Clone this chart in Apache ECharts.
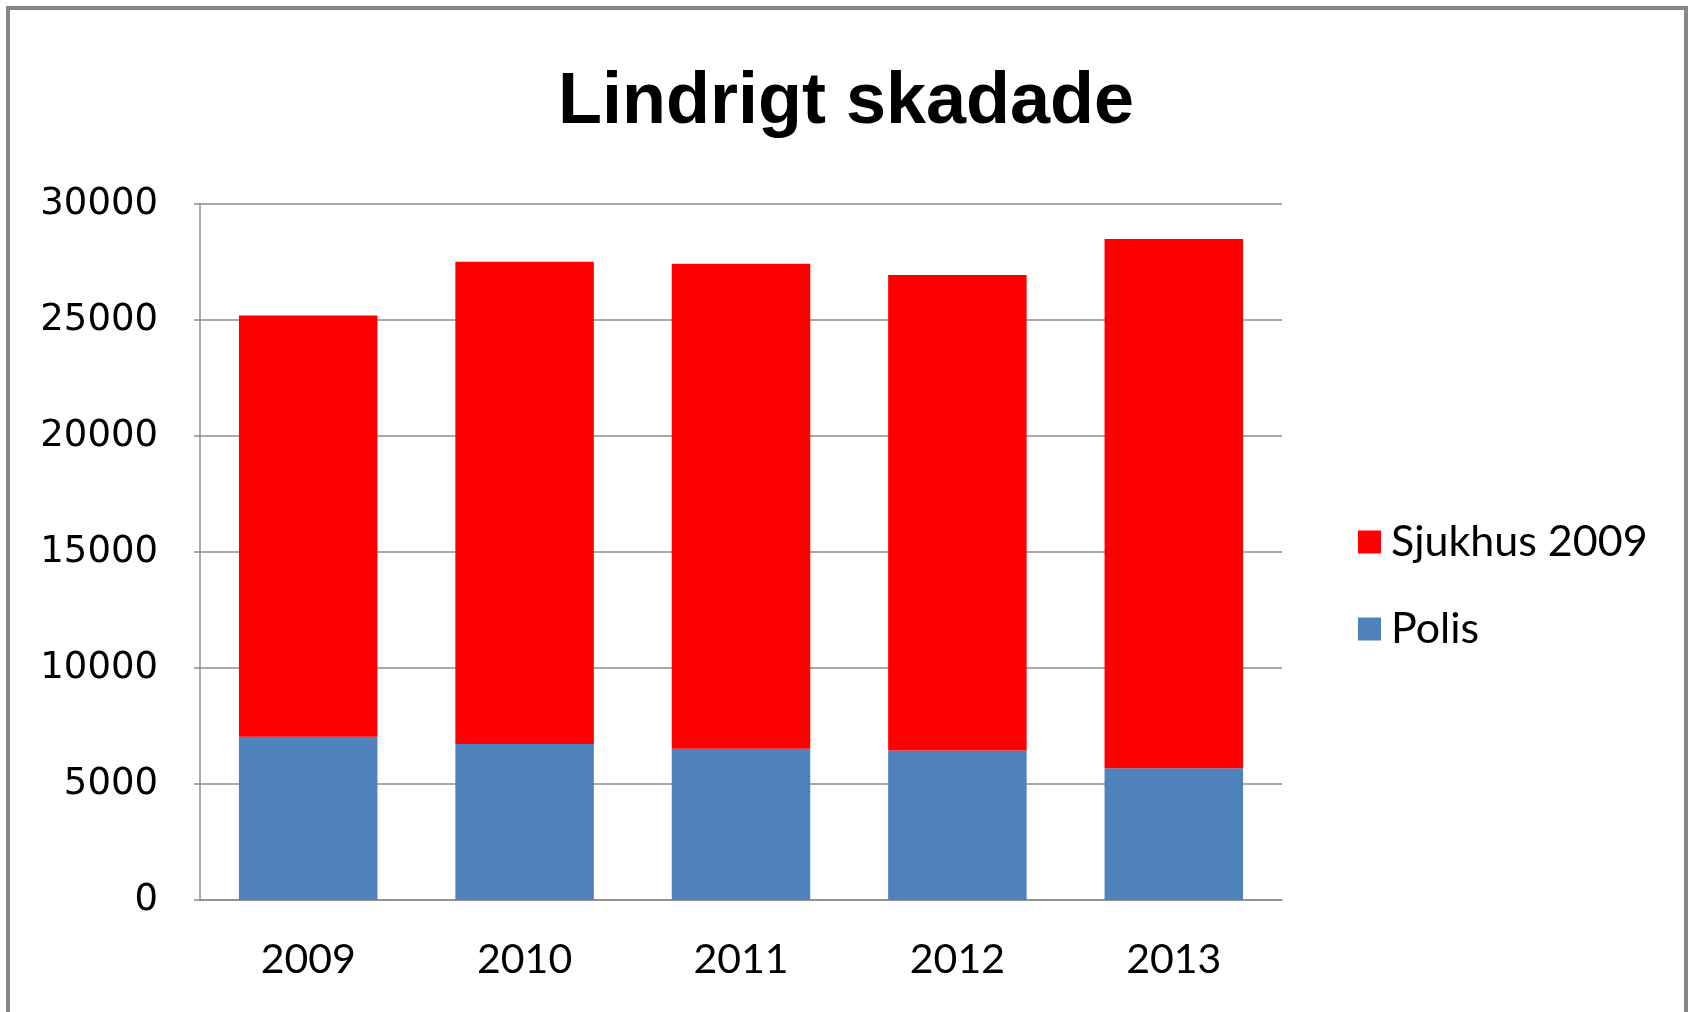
<!DOCTYPE html>
<html>
<head>
<meta charset="utf-8">
<title>Lindrigt skadade</title>
<script src="https://cdn.jsdelivr.net/npm/echarts@6/dist/echarts.min.js"></script>
<style>
  html, body { margin: 0; padding: 0; background: #fff; }
  #chart { width: 1692px; height: 1012px; }
</style>
</head>
<body>
<div id="chart"></div>
<script>
// Data
const years = ["2009", "2010", "2011", "2012", "2013"];
const polis = [7040, 6720, 6520, 6440, 5680];
const sjukhus = [18150, 20790, 20900, 20500, 22810];
const seriesNames = ["Sjukhus 2009", "Polis"];

const gridColor = "#8c8c8c";

const chart = echarts.init(document.getElementById("chart"));

chart.setOption({
  animation: false,
  backgroundColor: "#fff",
  title: {
    text: "Lindrigt skadade",
    left: "center",
    top: 62,
    textStyle: {
      fontFamily: "Liberation Sans",
      fontWeight: "bold",
      fontSize: 72,
      color: "#000"
    }
  },
  legend: {
    data: seriesNames,
    orient: "vertical",
    left: 1353,
    top: 515,
    itemWidth: 23,
    itemHeight: 23,
    itemGap: 43,
    icon: "rect",
    textStyle: {
      fontFamily: "Lato",
      fontSize: 43,
      lineHeight: 44,
      color: "#000",
      padding: [0, 0, 0, 5]
    }
  },
  grid: { left: 200, right: 410, top: 204, bottom: 112 },
  xAxis: {
    type: "category",
    data: years,
    axisLine: { lineStyle: { color: gridColor, width: 1.5 } },
    axisTick: { show: false },
    axisLabel: {
      fontFamily: "Lato",
      fontSize: 41,
      lineHeight: 44,
      color: "#000",
      margin: 38
    }
  },
  yAxis: {
    type: "value",
    min: 0,
    max: 30000,
    interval: 5000,
    axisLine: { show: true, lineStyle: { color: gridColor, width: 1.5 } },
    axisTick: { show: true, length: 6, lineStyle: { color: gridColor, width: 1.5 } },
    splitLine: { lineStyle: { color: gridColor, width: 1.5 } },
    axisLabel: {
      fontFamily: "DejaVu Sans",
      fontSize: 37,
      color: "#000",
      margin: 42,
      padding: [7, 0, 0, 0],
      formatter: v => String(v)
    }
  },
  series: [
    {
      name: "Polis",
      type: "bar",
      stack: "total",
      data: polis,
      barWidth: "64%",
      itemStyle: { color: "#4f81bd" }
    },
    {
      name: "Sjukhus 2009",
      type: "bar",
      stack: "total",
      data: sjukhus,
      barWidth: "64%",
      itemStyle: { color: "#ff0000" }
    }
  ],
  graphic: [
    {
      type: "rect",
      shape: { x: 8, y: 8, width: 1678, height: 1100 },
      style: { fill: null, stroke: "#868686", lineWidth: 4 },
      silent: true
    }
  ]
});
</script>
</body>
</html>
